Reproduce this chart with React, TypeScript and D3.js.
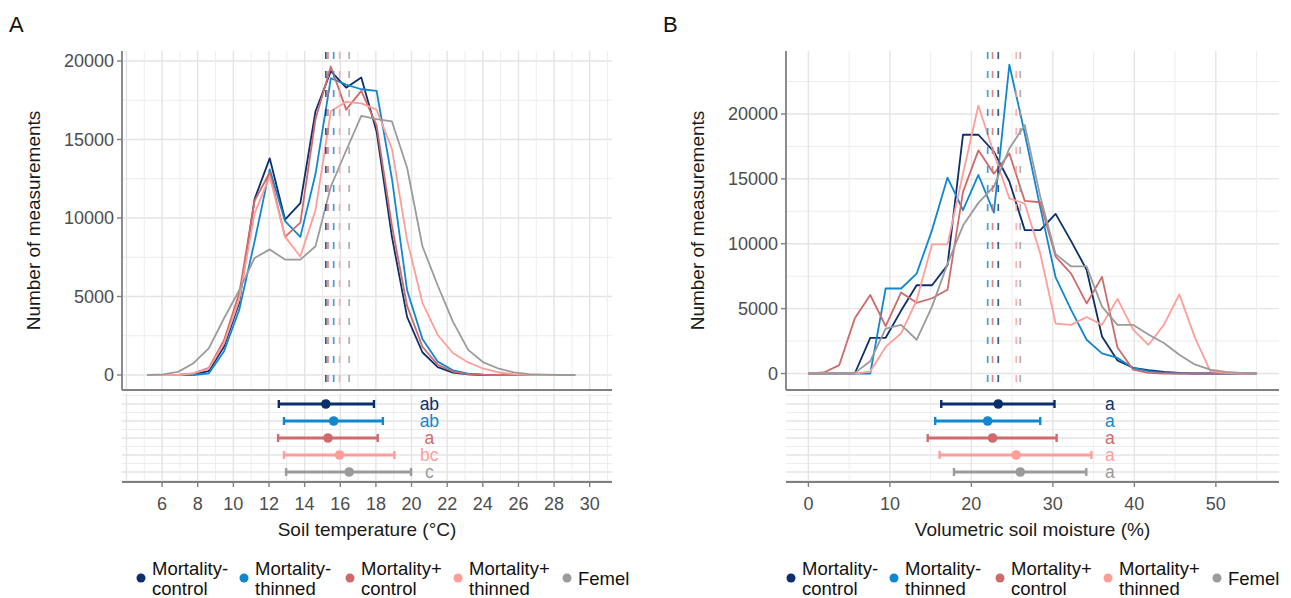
import React from "react";
import * as d3 from "d3";

// ---------- data ----------
const groups = ["Mortality- control", "Mortality- thinned", "Mortality+ control", "Mortality+ thinned", "Femel"];
const legendLines = [["Mortality-", "control"], ["Mortality-", "thinned"], ["Mortality+", "control"], ["Mortality+", "thinned"], ["Femel"]];
const colors = ["#0B2F6A", "#1187CF", "#CF6A6A", "#FF9E99", "#9B9B9B"];

// Panel A: soil temperature frequency polygons
const tempBins = [5.19, 6.05, 6.9, 7.76, 8.62, 9.47, 10.33, 11.19, 12.04, 12.9, 13.76, 14.61, 15.47, 16.33, 17.18, 18.04, 18.9, 19.75, 20.61, 21.47, 22.32, 23.18, 24.04, 24.9, 25.75, 26.61, 27.47, 28.32, 29.18];
const tempMortMinusControl = [0, 0, 0, 50, 250, 1800, 4600, 11200, 13800, 9900, 10950, 16800, 19350, 18300, 18950, 15500, 8800, 3700, 1450, 500, 150, 40, 0, 0, 0, 0, 0, 0, 0];
const tempMortMinusThinned = [0, 0, 0, 0, 100, 1500, 4150, 8500, 13100, 9800, 8800, 12800, 18900, 18500, 18200, 18100, 12500, 5400, 2300, 850, 300, 90, 20, 0, 0, 0, 0, 0, 0];
const tempMortPlusControl = [0, 0, 0, 100, 450, 2200, 5200, 11100, 12900, 8800, 9700, 16300, 19650, 16900, 18100, 15900, 9500, 4400, 1800, 650, 220, 60, 10, 0, 0, 0, 0, 0, 0];
const tempMortPlusThinned = [0, 0, 0, 100, 400, 2000, 4800, 10300, 12650, 8800, 7550, 10500, 16800, 17400, 17300, 16900, 14400, 8600, 4600, 2550, 1400, 800, 400, 160, 50, 10, 0, 0, 0];
const tempFemel = [0, 40, 200, 750, 1700, 3600, 5400, 7450, 8000, 7350, 7350, 8200, 12000, 14300, 16500, 16300, 16150, 13200, 8200, 5700, 3400, 1600, 800, 400, 170, 60, 20, 0, 0];
const tempMeans = [15.19, 15.63, 15.31, 15.96, 16.5];
const tempLow = [12.55, 12.84, 12.51, 12.84, 12.96];
const tempHigh = [17.89, 18.39, 18.1, 19.04, 19.97];
const tempLetters = ["ab", "ab", "a", "bc", "c"];
const tempTicks = [6, 8, 10, 12, 14, 16, 18, 20, 22, 24, 26, 28, 30];
const tempGrid = [4, 5, 6, 7, 8, 9, 10, 11, 12, 13, 14, 15, 16, 17, 18, 19, 20, 21, 22, 23, 24, 25, 26, 27, 28, 29, 30, 31];

// Panel B: soil moisture frequency polygons
const moistBins = [0, 1.9, 3.79, 5.69, 7.59, 9.48, 11.38, 13.28, 15.17, 17.07, 18.97, 20.86, 22.76, 24.66, 26.55, 28.45, 30.34, 32.24, 34.14, 36.03, 37.93, 39.83, 41.72, 43.62, 45.52, 47.41, 49.31, 51.21, 53.1, 55];
const moistMortMinusControl = [0, 0, 0, 0, 2750, 2750, 4850, 6800, 6800, 8350, 18400, 18400, 17100, 14800, 11050, 11050, 12300, 10200, 8000, 2850, 1000, 440, 250, 120, 50, 0, 0, 0, 0, 0];
const moistMortMinusThinned = [0, 0, 0, 0, 0, 6550, 6550, 7700, 11050, 15100, 12600, 15300, 12400, 23800, 18500, 12800, 7400, 4900, 2600, 1550, 1200, 440, 180, 50, 0, 0, 0, 0, 0, 0];
const moistMortPlusControl = [0, 80, 650, 4250, 6050, 3650, 6250, 5450, 5800, 6450, 14000, 17200, 15400, 16950, 13300, 13200, 9000, 7700, 5400, 7450, 2000, 300, 50, 0, 0, 0, 0, 0, 0, 0];
const moistMortPlusThinned = [0, 0, 0, 0, 150, 2050, 3100, 5650, 9950, 9950, 15400, 20650, 16950, 13500, 13100, 9250, 3850, 3750, 4350, 3750, 5750, 3400, 2200, 3750, 6100, 2800, 180, 50, 0, 0];
const moistFemel = [0, 0, 0, 50, 950, 3450, 3750, 2600, 5150, 8450, 11400, 13150, 14400, 17350, 19150, 13650, 9200, 8250, 8250, 5150, 3750, 3750, 3000, 2350, 1450, 700, 300, 130, 50, 0];
const moistMeans = [23.3, 22.0, 22.6, 25.5, 26.0];
const moistLow = [16.3, 15.56, 14.64, 16.1, 17.87];
const moistHigh = [30.2, 28.45, 30.46, 34.73, 34.1];
const moistLetters = ["a", "a", "a", "a", "a"];
const moistTicks = [0, 10, 20, 30, 40, 50];
const moistGrid = [0, 5, 10, 15, 20, 25, 30, 35, 40, 45, 50, 55];

const countTicks = [0, 5000, 10000, 15000, 20000];
const countMinor = [2500, 7500, 12500, 17500, 22500];

// ---------- layout ----------
const FONT = "'Liberation Sans', Arial, Helvetica, sans-serif";
const TOP = 51;
const TOP_BOTTOM = 390;
const LOW_TOP = 394;
const LOW_BOTTOM = 482;
const AXIS = "#808080";

type PanelProps = {
  label: string;
  labelX: number;
  left: number;
  right: number;
  xDomain: [number, number];
  yZero: number;
  y20k: number;
  bins: number[];
  series: number[][];
  means: number[];
  lows: number[];
  highs: number[];
  letters: string[];
  letterX: number;
  ticks: number[];
  grid: number[];
  isMajor: (v: number) => boolean;
  xTitle: string;
  yTitleX: number;
  legendX: number[];
};

function Panel(p: PanelProps) {
  const x = d3.scaleLinear().domain(p.xDomain).range([p.left, p.right]);
  const y = d3.scaleLinear().domain([0, 20000]).range([p.yZero, p.y20k]);
  const rows = d3.scalePoint<string>().domain(groups).range([404, 472]);
  const step = rows.step();
  const line = d3
    .line<number>()
    .x((_, i) => x(p.bins[i]))
    .y((d) => y(d));
  const titleCx = (p.left + p.right) / 2;
  const rowMinor = [rows(groups[0])! - step / 2, ...groups.map((g) => rows(g)! + step / 2)];

  return (
    <g>
      <text x={p.labelX} y={32} fontSize={22} fontFamily={FONT} fill="#111">{p.label}</text>

      {/* top panel grid */}
      {countMinor.filter((v) => y(v) > TOP).map((v) => (
        <line key={"hm" + v} x1={p.left} x2={p.right} y1={y(v)} y2={y(v)} stroke="#ededed" strokeWidth={1} />
      ))}
      {countTicks.map((v) => (
        <line key={"hM" + v} x1={p.left} x2={p.right} y1={y(v)} y2={y(v)} stroke="#e4e4e4" strokeWidth={1.4} />
      ))}
      {p.grid.map((v) => (
        <line key={"v" + v} x1={x(v)} x2={x(v)} y1={TOP} y2={TOP_BOTTOM}
          stroke={p.isMajor(v) ? "#e4e4e4" : "#ededed"} strokeWidth={p.isMajor(v) ? 1.4 : 1} />
      ))}

      {/* lower panel grid */}
      {rowMinor.map((v, i) => (
        <line key={"lm" + i} x1={p.left} x2={p.right} y1={v} y2={v} stroke="#ededed" strokeWidth={1} />
      ))}
      {groups.map((g) => (
        <line key={"lM" + g} x1={p.left} x2={p.right} y1={rows(g)} y2={rows(g)} stroke="#e4e4e4" strokeWidth={1.4} />
      ))}
      {p.grid.map((v) => (
        <line key={"lv" + v} x1={x(v)} x2={x(v)} y1={LOW_TOP} y2={LOW_BOTTOM}
          stroke={p.isMajor(v) ? "#e4e4e4" : "#ededed"} strokeWidth={p.isMajor(v) ? 1.4 : 1} />
      ))}

      {/* frequency polygons */}
      {p.series.map((s, k) => (
        <path key={"s" + k} d={line(s) || ""} fill="none" stroke={colors[k]} strokeWidth={1.8} strokeLinejoin="round" />
      ))}

      {/* mean lines */}
      {p.means.map((m, k) => (
        <line key={"m" + k} x1={x(m)} x2={x(m)} y1={TOP + 1} y2={TOP_BOTTOM} stroke={colors[k]} strokeWidth={1.7}
          strokeDasharray="7,12" strokeOpacity={0.8} />
      ))}

      {/* axes */}
      <line x1={p.left} x2={p.left} y1={TOP} y2={TOP_BOTTOM} stroke={AXIS} strokeWidth={1.8} />
      <line x1={p.left} x2={p.right} y1={TOP_BOTTOM} y2={TOP_BOTTOM} stroke={AXIS} strokeWidth={1.8} />
      {countTicks.map((v) => (
        <g key={"yt" + v}>
          <line x1={p.left - 5} x2={p.left} y1={y(v)} y2={y(v)} stroke={AXIS} strokeWidth={1.4} />
          <text x={p.left - 8} y={y(v) + 6.3} textAnchor="end" fontSize={18} fontFamily={FONT} fill="#4d4d4d">{v}</text>
        </g>
      ))}
      <text transform={`translate(${p.yTitleX},${(TOP + TOP_BOTTOM) / 2}) rotate(-90)`} textAnchor="middle" dy={6.5}
        fontSize={19} fontFamily={FONT} fill="#1a1a1a">Number of measurements</text>

      {/* error bars */}
      {groups.map((g, k) => {
        const ry = rows(g)!;
        return (
          <g key={"e" + k}>
            <line x1={x(p.lows[k])} x2={x(p.highs[k])} y1={ry} y2={ry} stroke={colors[k]} strokeWidth={2.8} />
            <line x1={x(p.lows[k])} x2={x(p.lows[k])} y1={ry - 4} y2={ry + 4} stroke={colors[k]} strokeWidth={2.4} />
            <line x1={x(p.highs[k])} x2={x(p.highs[k])} y1={ry - 4} y2={ry + 4} stroke={colors[k]} strokeWidth={2.4} />
            <circle cx={x(p.means[k])} cy={ry} r={4.8} fill={colors[k]} />
            <text x={x(p.letterX)} y={ry + 6} textAnchor="middle" fontSize={17.5} fontFamily={FONT} fill={colors[k]}>{p.letters[k]}</text>
          </g>
        );
      })}

      {/* lower x axis */}
      <line x1={p.left} x2={p.right} y1={LOW_BOTTOM} y2={LOW_BOTTOM} stroke={AXIS} strokeWidth={1.8} />
      {p.ticks.map((v) => (
        <g key={"xt" + v}>
          <line x1={x(v)} x2={x(v)} y1={LOW_BOTTOM} y2={LOW_BOTTOM + 5} stroke={AXIS} strokeWidth={1.4} />
          <text x={x(v)} y={509.5} textAnchor="middle" fontSize={18} fontFamily={FONT} fill="#4d4d4d">{v}</text>
        </g>
      ))}
      <text x={titleCx} y={535.5} textAnchor="middle" fontSize={19} fontFamily={FONT} fill="#1a1a1a">{p.xTitle}</text>

      {/* legend */}
      {legendLines.map((lines, k) => (
        <g key={"lg" + k}>
          <circle cx={p.legendX[k]} cy={578} r={4.5} fill={colors[k]} />
          {lines.map((t, j) => (
            <text key={j} x={p.legendX[k] + 11}
              y={lines.length === 1 ? 584.5 : 574.5 + j * 20}
              fontSize={18.5} fontFamily={FONT} fill="#111">{t}</text>
          ))}
        </g>
      ))}
    </g>
  );
}

export default function App() {
  const legendA = [141, 244, 350, 458, 567];
  const legendB = legendA.map((v) => v + 650);
  return (
    <svg width={1291} height={598} style={{ position: "absolute", left: 0, top: 0, background: "#fff" }}>
      <rect width={1291} height={598} fill="#fff" />
      <Panel
        label="A" labelX={9}
        left={122} right={612} xDomain={[3.75, 31.25]} yZero={375} y20k={61}
        bins={tempBins}
        series={[tempMortMinusControl, tempMortMinusThinned, tempMortPlusControl, tempMortPlusThinned, tempFemel]}
        means={tempMeans} lows={tempLow} highs={tempHigh} letters={tempLetters} letterX={21}
        ticks={tempTicks} grid={tempGrid} isMajor={(v) => v % 2 === 0}
        xTitle="Soil temperature (°C)" yTitleX={33} legendX={legendA}
      />
      <Panel
        label="B" labelX={663}
        left={786} right={1279} xDomain={[-2.75, 57.75]} yZero={373.5} y20k={114}
        bins={moistBins}
        series={[moistMortMinusControl, moistMortMinusThinned, moistMortPlusControl, moistMortPlusThinned, moistFemel]}
        means={moistMeans} lows={moistLow} highs={moistHigh} letters={moistLetters} letterX={37}
        ticks={moistTicks} grid={moistGrid} isMajor={(v) => v % 10 === 0}
        xTitle="Volumetric soil moisture (%)" yTitleX={697} legendX={legendB}
      />
    </svg>
  );
}
